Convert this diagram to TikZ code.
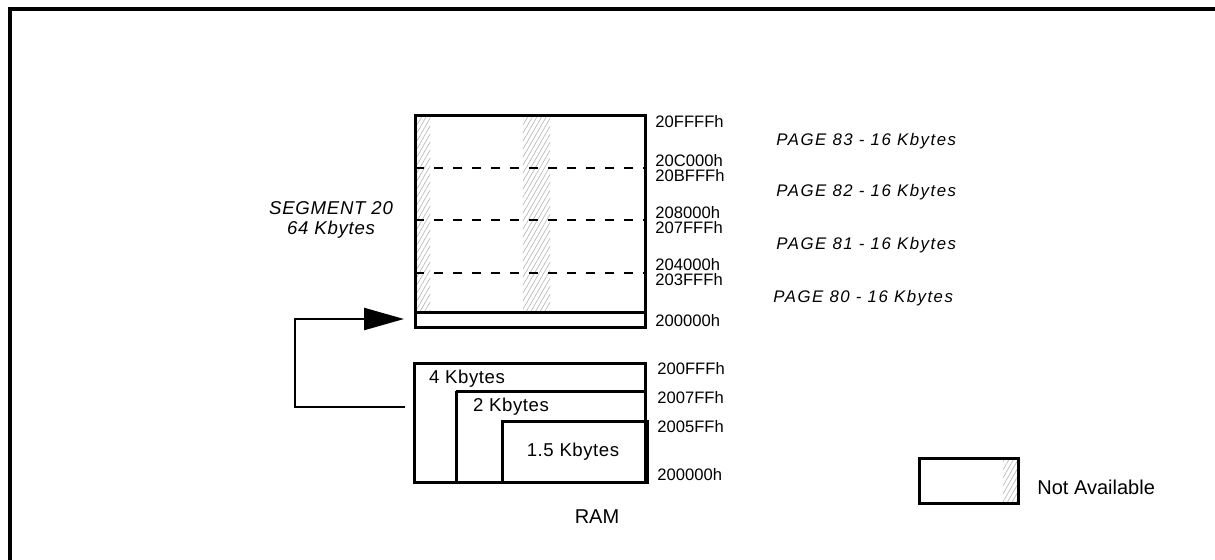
\documentclass[tikz,border=0pt]{standalone}
\usepackage{fontspec}
\setmainfont{Liberation Sans}
\usetikzlibrary{arrows.meta,patterns.meta}

\tikzset{
  membox/.style={line width=1.5pt},
  pagesep/.style={line width=1.3pt, dash pattern=on 4.5pt off 5pt},
  notavail/.style={pattern={Lines[angle=60,distance=2pt,line width=0.3pt]}, pattern color=gray!60},
  addr/.style={anchor=west, inner sep=0pt, font=\fontsize{8.3}{9}\selectfont},
  pagelbl/.style={anchor=west, inner sep=0pt, font=\fontsize{8.4}{9}\selectfont\itshape\addfontfeature{LetterSpace=9}},
  sizelbl/.style={inner sep=0pt, font=\fontsize{9.3}{10}\selectfont\addfontfeature{LetterSpace=3}},
  biglbl/.style={inner sep=0pt, font=\fontsize{10}{11}\selectfont},
}

\begin{document}
\begin{tikzpicture}[x=0.5pt,y=-0.5pt]
  \useasboundingbox (0,0) rectangle (1215,559);

  % frame
  \draw[line width=2pt] (10,565) -- (10,9) -- (1220,9);

  % segment 20, not available strips
  \fill[notavail] (416,116) rectangle (430,311);
  \fill[notavail] (523,116) rectangle (550,311);
  \draw[membox] (415,115) rectangle (645,327);
  \draw[membox] (415,312) -- (645,312);
  \foreach \y in {168,220,273}
    \draw[pagesep] (415,\y) -- (645,\y);

  \node[addr] (a20ffff) at (655,122) {20FFFFh};
  \node[addr] (a20c000) at (655,161) {20C000h};
  \node[addr] (a20bfff) at (655,176) {20BFFFh};
  \node[addr] (a208000) at (655,213) {208000h};
  \node[addr] (a207fff) at (655,228) {207FFFh};
  \node[addr] (a204000) at (655,265) {204000h};
  \node[addr] (a203fff) at (655,280) {203FFFh};
  \node[addr] (a200000) at (655,321) {200000h};

  \node[pagelbl] (p83) at (776,141) {PAGE 83 - 16 Kbytes};
  \node[pagelbl] (p82) at (776,192) {PAGE 82 - 16 Kbytes};
  \node[pagelbl] (p81) at (776,245) {PAGE 81 - 16 Kbytes};
  \node[pagelbl] (p80) at (773,298) {PAGE 80 - 16 Kbytes};

  \node[sizelbl, align=center, font=\fontsize{9.3}{10.2}\selectfont\itshape\addfontfeature{LetterSpace=4}]
    (seg) at (331,220) {SEGMENT 20\\64 Kbytes};

  % RAM
  \draw[membox] (414,363) rectangle (645,482);
  \draw[membox] (456,391) -- (456,482);
  \draw[membox] (456,391) -- (645,391);
  \draw[membox] (502,421) rectangle (647,482);

  \node[sizelbl] (k4) at (467,379) {4 Kbytes};
  \node[sizelbl] (k2) at (511,407) {2 Kbytes};
  \node[sizelbl] (k15) at (573,452) {1.5 Kbytes};

  \node[addr] (r200fff) at (657,369) {200FFFh};
  \node[addr] (r2007ff) at (657,398) {2007FFh};
  \node[addr] (r2005ff) at (657,427) {2005FFh};
  \node[addr] (r200000) at (657,475) {200000h};

  \node[biglbl] (ram) at (597,517) {RAM};

  % mapping arrow
  \coordinate (ramtap) at (405,407);
  \coordinate (bend) at (295,319);
  \coordinate (segtap) at (404,319);
  \draw[line width=1.2pt, -{Triangle[length=20pt,width=11pt]}] (ramtap) -| (bend) -- (segtap);

  % legend
  \fill[notavail] (1003,459) rectangle (1017,502);
  \draw[membox] (919,458) rectangle (1018,503);
  \node[biglbl, anchor=west] (navail) at (1037,487) {Not Available};
\end{tikzpicture}
\end{document}
